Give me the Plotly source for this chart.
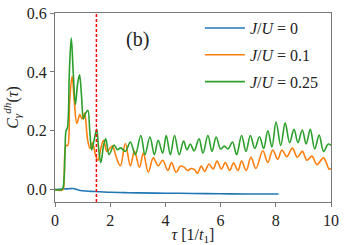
import plotly.graph_objects as go

# ---- data ----
t_blue = [0.0, 0.3, 0.5, 0.65, 0.8, 1.0, 1.3, 1.6, 2.0, 2.5, 3.0, 4.0, 5.0, 6.0, 7.0, 8.1]
c_blue = [0.0, 0.002, 0.003, 0.004, 0.0, -0.004, -0.006, -0.007, -0.009, -0.010,
          -0.011, -0.012, -0.013, -0.014, -0.015, -0.015]

t_orange = [0.0, 0.28, 0.33, 0.40, 0.46, 0.53, 0.62, 0.70, 0.79, 0.90, 0.98, 1.07, 1.18,
            1.27, 1.36, 1.46, 1.56, 1.66, 1.76, 1.88, 1.98, 2.08, 2.22, 2.37, 2.55, 2.73,
            2.88, 3.06, 3.20, 3.38, 3.56, 3.74, 3.90, 4.09, 4.22, 4.39, 4.55, 4.70, 4.80,
            4.93, 5.05, 5.16, 5.30, 5.42, 5.58, 5.73, 5.87, 6.03, 6.17, 6.33, 6.47, 6.63,
            6.76, 6.93, 7.10, 7.28, 7.53, 7.71, 7.89, 8.07, 8.22, 8.40, 8.60, 8.78, 8.96,
            9.13, 9.31, 9.49, 9.73, 9.93, 10.0]
c_orange = [0.0, 0.0, 0.04, 0.15, 0.15, 0.30, 0.385, 0.30, 0.225, 0.255, 0.24, 0.26, 0.17,
            0.14, 0.16, 0.12, 0.10, 0.14, 0.168, 0.13, 0.14, 0.148, 0.11, 0.081, 0.157, 0.081,
            0.13, 0.076, 0.124, 0.059, 0.108, 0.081, 0.10, 0.065, 0.092, 0.059, 0.08, 0.075, 0.065,
            0.072, 0.068, 0.056, 0.08, 0.062, 0.087, 0.07, 0.097, 0.07, 0.092, 0.065, 0.09, 0.065,
            0.097, 0.065, 0.11, 0.072, 0.132, 0.092, 0.135, 0.103, 0.135, 0.112, 0.141, 0.11, 0.13,
            0.10, 0.114, 0.085, 0.108, 0.07, 0.072]

t_green = [0.0, 0.25, 0.30, 0.36, 0.40, 0.45, 0.52, 0.59, 0.66, 0.74, 0.82, 0.89, 0.96, 1.03,
           1.11, 1.19, 1.26, 1.33, 1.42, 1.51, 1.58, 1.66, 1.76, 1.84, 1.96, 2.14, 2.26, 2.38,
           2.55, 2.73, 2.91, 3.11, 3.26, 3.44, 3.60, 3.74, 3.90, 4.03, 4.18, 4.33, 4.50, 4.66,
           4.78, 4.90, 5.04, 5.22, 5.36, 5.54, 5.69, 5.84, 6.00, 6.13, 6.27, 6.43, 6.58, 6.76,
           6.92, 7.08, 7.24, 7.41, 7.56, 7.71, 7.86, 8.01, 8.18, 8.34, 8.50, 8.66, 8.80, 8.96,
           9.10, 9.25, 9.41, 9.57, 9.73, 9.90, 10.0]
c_green = [0.0, 0.0, 0.01, 0.12, 0.20, 0.21, 0.40, 0.515, 0.40, 0.29, 0.36, 0.39, 0.32, 0.24,
           0.26, 0.27, 0.20, 0.135, 0.17, 0.205, 0.14, 0.092, 0.15, 0.173, 0.119, 0.152, 0.136, 0.142,
           0.13, 0.162, 0.119, 0.184, 0.119, 0.179, 0.119, 0.168, 0.124, 0.184, 0.119, 0.184, 0.119, 0.165,
           0.135, 0.155, 0.132, 0.173, 0.124, 0.184, 0.13, 0.179, 0.138, 0.148, 0.138, 0.162, 0.119, 0.184,
           0.13, 0.184, 0.14, 0.18, 0.14, 0.20, 0.145, 0.23, 0.15, 0.227, 0.16, 0.205, 0.16, 0.203,
           0.155, 0.205, 0.138, 0.186, 0.13, 0.155, 0.15]

names = ["<i>J</i>/<i>U</i> = 0", "<i>J</i>/<i>U</i> = 0.1", "<i>J</i>/<i>U</i> = 0.25"]
colors = ["#1f77b4", "#ff7f0e", "#2ca02c"]
x_ticks = [0, 2, 4, 6, 8, 10]
y_ticks = [0.0, 0.2, 0.4, 0.6]
y_tick_text = ["0.0", "0.2", "0.4", "0.6"]
t_mark = 1.5

FONT = "Liberation Serif"

fig = go.Figure()
for i, (tx, cy) in enumerate([(t_blue, c_blue), (t_orange, c_orange), (t_green, c_green)]):
    fig.add_trace(go.Scatter(
        x=tx, y=cy, mode="lines", name=names[i], legendgroup=str(i),
        line=dict(color=colors[i], width=1.6, shape="spline", smoothing=1.0),
    ))

fig.add_shape(type="line", x0=t_mark, x1=t_mark, xref="x", y0=0, y1=1, yref="paper",
              line=dict(color="red", width=1.5, dash="3px,2px"))

fig.add_annotation(x=3.0, y=0.51, xref="x", yref="y", text="(b)", showarrow=False,
                   font=dict(family=FONT, size=20, color="#222"))

axis_common = dict(showline=True, mirror=True, linecolor="#777", linewidth=1.2,
                   ticks="outside", ticklen=4, tickcolor="#777", showgrid=False,
                   zeroline=False, ticklabeloverflow="allow",
                   tickfont=dict(family=FONT, size=16, color="#222"))

fig.update_layout(
    width=344, height=245,
    margin=dict(l=55, r=8, t=5, b=42, pad=0),
    paper_bgcolor="white", plot_bgcolor="white",
    font=dict(family=FONT, size=16, color="#222"),
    xaxis=dict(range=[0, 10], tickvals=x_ticks, title=dict(text="<i>τ</i> [1/<i>t</i><sub>1</sub>]",
               standoff=0, font=dict(family=FONT, size=16)), **axis_common),
    yaxis=dict(range=[-0.042, 0.6005], tickvals=y_ticks, ticktext=y_tick_text,
               title=dict(text="<i>C</i><sub><i>γ</i></sub><sup><i>dh</i></sup>(<i>τ</i>)",
                          standoff=4, font=dict(family=FONT, size=16)), **axis_common),
    legend=dict(x=0.525, y=1.01, xanchor="left", yanchor="top", bgcolor="rgba(255,255,255,0)",
                borderwidth=0, font=dict(family=FONT, size=16), tracegroupgap=3,
                traceorder="grouped", itemwidth=40),
    showlegend=True,
)

fig.write_html("out.html", config={"displayModeBar": False},
               post_script="document.body.style.margin='0';document.body.style.padding='0';")
